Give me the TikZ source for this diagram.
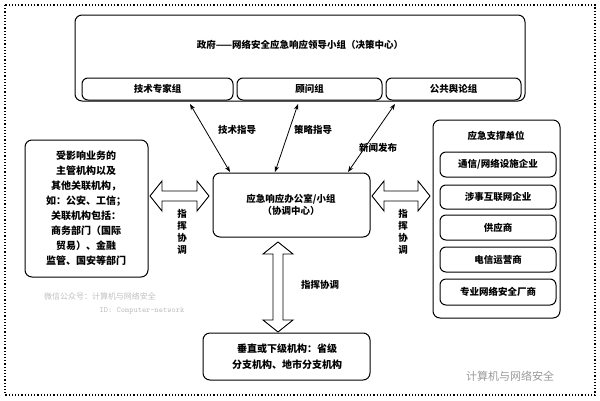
\documentclass[tikz,border=0pt]{standalone}
\usepackage{fontspec}
\setmainfont{Noto Sans CJK SC}
\usetikzlibrary{arrows.meta}
\tikzset{
 box/.style={draw,line width=1pt,rounded corners=7pt,fill=white},
 sub/.style={draw,line width=1pt,rounded corners=6pt},
 lbl/.style={font=\bfseries\fontsize{9.5}{12}\selectfont},
 thin/.style={{Stealth[length=6pt]}-{Stealth[length=6pt]},line width=0.8pt},
 fat/.style={draw,line width=0.9pt,fill=white},
 wm/.style={text=black!25,font=\fontsize{8}{10}\selectfont}
}
\newcommand{\harrow}[3]{\draw[fat] (#1,#3) -- ++(12,-15) -- ++(0,10) -- (#2-12,#3-5) -- ++(0,-10) -- (#2,#3) -- (#2-12,#3+15) -- ++(0,-10) -- (#1+12,#3+5) -- ++(0,10) -- cycle;}
\newcommand{\varrow}[3]{\draw[fat] (#3,#1) -- ++(-15,12) -- ++(10,0) -- (#3-5,#2-12) -- ++(-10,0) -- (#3,#2) -- (#3+15,#2-12) -- ++(-10,0) -- (#3+5,#1+12) -- ++(10,0) -- cycle;}
\begin{document}
\begin{tikzpicture}[x=1pt,y=-1pt]
\useasboundingbox (0,0) rectangle (600,400);
\draw[dotted,line width=1.2pt] (5,5) rectangle (595,395);
% top
\draw[box] (75,15) rectangle (525,101);
\node[lbl] (title) at (300,45) {政府——网络安全应急响应领导小组（决策中心）};
\draw[sub] (82,78) rectangle node[lbl] (s1) {技术专家组} (233,100);
\draw[sub] (237,78) rectangle node[lbl] (s2) {顾问组} (382,100);
\draw[sub] (386,78) rectangle node[lbl] (s3) {公共舆论组} (521,100);
% center
\draw[box] (213,173) rectangle (370,237);
\node[lbl,align=center] (c) at (291,205) {应急响应办公室/小组\\（协调中心）};
% left
\draw[box] (25,140) rectangle (148,277);
\node[lbl,align=center,font=\bfseries\fontsize{10}{15}\selectfont] (l) at (86,208) {受影响业务的\\主管机构以及\\其他关联机构，\\如：公安、工信；\\关联机构包括：\\商务部门（国际\\贸易）、金融\\监管、国安等部门};
% right
\draw[box] (433,120) rectangle (560,318);
\node[lbl] (rt) at (496,136) {应急支撑单位};
\draw[sub] (440,152) rectangle node[lbl] (r1) {通信/网络设施企业} (556,177);
\draw[sub] (440,185) rectangle node[lbl] (r2) {涉事互联网企业} (556,209);
\draw[sub] (440,215) rectangle node[lbl] (r3) {供应商} (556,240);
\draw[sub] (440,247) rectangle node[lbl] (r4) {电信运营商} (556,272);
\draw[sub] (440,279) rectangle node[lbl] (r5) {专业网络安全厂商} (556,305);
% bottom
\draw[box] (203,333) rectangle (370,380);
\node[lbl,align=center,font=\bfseries\fontsize{10}{16}\selectfont] (b) at (287,357) {垂直或下级机构：省级\\分支机构、地市分支机构};
% thin arrows
\coordinate (a1s) at (190,104); \coordinate (a1e) at (230,172);
\coordinate (a2s) at (298,104); \coordinate (a2e) at (275,172);
\coordinate (a3s) at (395,104); \coordinate (a3e) at (348,172);
\draw[thin] (a1s) -- (a1e);
\draw[thin] (a2s) -- (a2e);
\draw[thin] (a3s) -- (a3e);
\node[lbl] (t1) at (237,130) {技术指导};
\node[lbl] (t2) at (313,130) {策略指导};
\node[lbl] (t3) at (378,148) {新闻发布};
% fat arrows
\harrow{150}{209}{196}
\harrow{372}{430}{196}
\varrow{242}{332}{278}
\node[lbl,align=center] (f1) at (182,232) {指\\挥\\协\\调};
\node[lbl,align=center] (f2) at (403,232) {指\\挥\\协\\调};
\node[lbl] (f3) at (320,285) {指挥协调};
% watermarks
\node[wm] (w1) at (100,296) {微信公众号：计算机与网络安全};
\node[wm,font=\ttfamily\fontsize{8}{10}\selectfont] (w2) at (142,311) {ID: Computer-network};
\node[wm,font=\fontsize{11}{13}\selectfont,text=black!40] (w3) at (510,376) {计算机与网络安全};
\end{tikzpicture}
\end{document}
